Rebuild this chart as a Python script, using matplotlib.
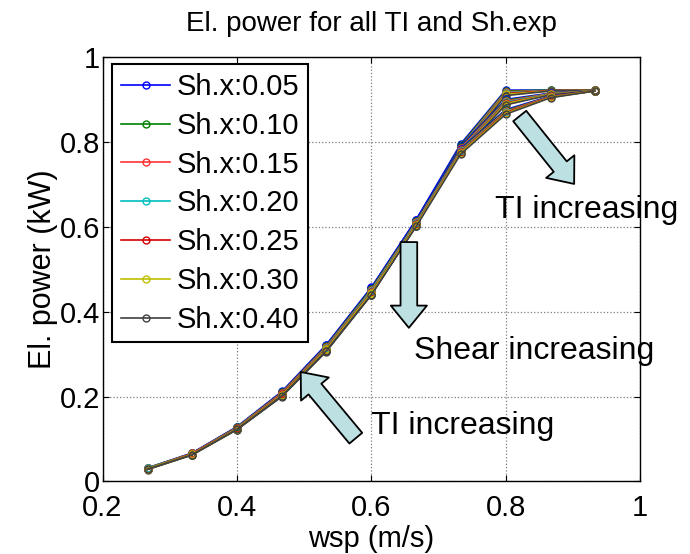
import matplotlib
matplotlib.use('Agg')
import matplotlib.pyplot as plt
from matplotlib.patches import FancyArrowPatch

plt.rcParams['font.family'] = ['Liberation Sans', 'DejaVu Sans']

# wind speed bins (normalised)
wsp = [0.267, 0.333, 0.400, 0.467, 0.533, 0.600, 0.667, 0.733, 0.800, 0.867, 0.933]

shear_labels = ['Sh.x:0.05', 'Sh.x:0.10', 'Sh.x:0.15', 'Sh.x:0.20',
                'Sh.x:0.25', 'Sh.x:0.30', 'Sh.x:0.40']
shear_colors = ['#0000ff', '#008000', '#ff3333', '#00bfbf',
                '#d40000', '#bfbf00', '#404040']

# power curves per shear exponent, rows = low / mid / high TI
power_sh005 = [[0.030, 0.065, 0.127, 0.210, 0.320, 0.455, 0.617, 0.795, 0.922, 0.922, 0.922],
               [0.031, 0.066, 0.128, 0.211, 0.321, 0.456, 0.617, 0.790, 0.900, 0.915, 0.921],
               [0.032, 0.067, 0.129, 0.212, 0.322, 0.457, 0.616, 0.784, 0.876, 0.908, 0.920]]
power_sh010 = [[0.030, 0.065, 0.126, 0.208, 0.317, 0.452, 0.614, 0.792, 0.920, 0.922, 0.922],
               [0.031, 0.066, 0.127, 0.209, 0.318, 0.453, 0.614, 0.787, 0.898, 0.914, 0.921],
               [0.032, 0.066, 0.128, 0.210, 0.319, 0.454, 0.613, 0.782, 0.874, 0.907, 0.920]]
power_sh015 = [[0.030, 0.064, 0.125, 0.207, 0.315, 0.450, 0.612, 0.789, 0.918, 0.921, 0.922],
               [0.031, 0.065, 0.126, 0.208, 0.316, 0.451, 0.612, 0.785, 0.896, 0.914, 0.921],
               [0.031, 0.066, 0.127, 0.209, 0.317, 0.451, 0.611, 0.780, 0.872, 0.907, 0.920]]
power_sh020 = [[0.030, 0.064, 0.124, 0.205, 0.313, 0.447, 0.610, 0.787, 0.916, 0.921, 0.922],
               [0.030, 0.065, 0.125, 0.206, 0.314, 0.448, 0.609, 0.782, 0.894, 0.913, 0.921],
               [0.031, 0.065, 0.126, 0.207, 0.315, 0.449, 0.609, 0.778, 0.870, 0.906, 0.920]]
power_sh025 = [[0.029, 0.063, 0.124, 0.204, 0.311, 0.445, 0.608, 0.784, 0.914, 0.921, 0.922],
               [0.030, 0.064, 0.124, 0.205, 0.312, 0.446, 0.607, 0.780, 0.892, 0.912, 0.921],
               [0.030, 0.065, 0.125, 0.206, 0.313, 0.446, 0.606, 0.776, 0.869, 0.906, 0.920]]
power_sh030 = [[0.029, 0.063, 0.123, 0.202, 0.309, 0.442, 0.606, 0.782, 0.912, 0.920, 0.922],
               [0.029, 0.064, 0.123, 0.203, 0.310, 0.443, 0.605, 0.778, 0.890, 0.912, 0.921],
               [0.030, 0.064, 0.124, 0.204, 0.311, 0.444, 0.604, 0.774, 0.867, 0.905, 0.920]]
power_sh040 = [[0.028, 0.062, 0.122, 0.200, 0.306, 0.439, 0.603, 0.779, 0.909, 0.920, 0.922],
               [0.029, 0.063, 0.122, 0.201, 0.307, 0.440, 0.602, 0.775, 0.887, 0.911, 0.921],
               [0.029, 0.063, 0.123, 0.202, 0.308, 0.440, 0.601, 0.771, 0.865, 0.904, 0.920]]

all_power = [power_sh005, power_sh010, power_sh015, power_sh020,
             power_sh025, power_sh030, power_sh040]

x_ticks = [0.2, 0.4, 0.6, 0.8, 1.0]
x_ticklabels = ['0.2', '0.4', '0.6', '0.8', '1']
y_ticks = [0, 0.2, 0.4, 0.6, 0.8, 1.0]
y_ticklabels = ['0', '0.2', '0.4', '0.6', '0.8', '1']

fig = plt.figure(figsize=(6.9, 5.54), dpi=100)
ax = fig.add_axes([0.1486, 0.1309, 0.7789, 0.7662])

# TI outer loop, shear inner loop (so legend picks first 7 handles)
n_ti = len(power_sh005)
for j in range(n_ti):
    for k, curves in enumerate(all_power):
        ax.plot(wsp, curves[j], '-o', color=shear_colors[k], lw=1.2,
                markersize=5, markerfacecolor='none',
                markeredgecolor=shear_colors[k], markeredgewidth=1.0,
                label=shear_labels[k] if j == 0 else None, zorder=3)

ax.set_xlim(0.2, 1.0)
ax.set_ylim(0, 1.0)
ax.set_xticks(x_ticks)
ax.set_xticklabels(x_ticklabels)
ax.set_yticks(y_ticks)
ax.set_yticklabels(y_ticklabels)
ax.tick_params(direction='in', length=4, width=0.8, top=True, right=True,
               labelsize=21)
ax.tick_params(axis='x', pad=9)
ax.tick_params(axis='y', pad=2)
ax.grid(True, linestyle=':', color='#7f7f7f', linewidth=0.9)
for sp in ax.spines.values():
    sp.set_linewidth(1.0)

ax.set_xlabel('wsp (m/s)', fontsize=21, labelpad=2)
ax.set_ylabel('El. power (kW)', fontsize=22, labelpad=1)
ax.set_title('El. power for all TI and Sh.exp', fontsize=20, pad=19)

leg = ax.legend(loc='upper left', bbox_to_anchor=(0.0177, 0.983),
                borderaxespad=0, fontsize=21, fancybox=False, framealpha=1,
                edgecolor='black', labelspacing=0.37, handlelength=1.7,
                handletextpad=0.2, borderpad=0.3)
leg.get_frame().set_linewidth(1.5)
leg.set_zorder(5)

# fat annotation arrows (tail -> tip, in data coords)
arrow_style = 'simple,head_length=16,head_width=26,tail_width=12'
arrows = [((0.821, 0.861), (0.902, 0.701)),
          ((0.656, 0.564), (0.656, 0.362)),
          ((0.577, 0.102), (0.495, 0.258))]
for tail, tip in arrows:
    ax.add_patch(FancyArrowPatch(tail, tip, arrowstyle=arrow_style,
                                 mutation_scale=1, shrinkA=0, shrinkB=0,
                                 facecolor='#bde0e3', edgecolor='black',
                                 linewidth=1.3, zorder=4, clip_on=False))

ax.text(0.784, 0.620, 'TI increasing', fontsize=23, va='baseline', clip_on=False)
ax.text(0.664, 0.289, 'Shear increasing', fontsize=23, va='baseline', clip_on=False)
ax.text(0.599, 0.112, 'TI increasing', fontsize=23, va='baseline', clip_on=False)

fig.savefig('out.png', dpi=100, facecolor='white')
